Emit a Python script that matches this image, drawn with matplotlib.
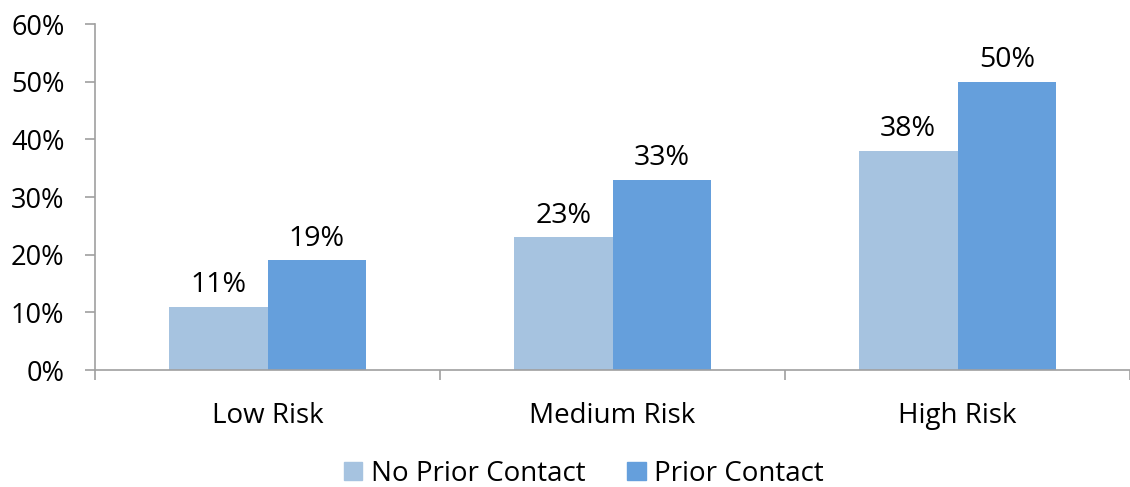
import matplotlib
matplotlib.use("Agg")
import matplotlib.pyplot as plt
import numpy as np
from matplotlib.patches import Patch

categories = ["Low Risk", "Medium Risk", "High Risk"]
no_prior = [11, 23, 38]
prior = [19, 33, 50]
series_names = ["No Prior Contact", "Prior Contact"]

LIGHT = "#A6C3E0"
DARK = "#659FDC"
AXIS = "#A0A0A0"

plt.rcParams["font.family"] = ["Open Sans", "DejaVu Sans"]

fig = plt.figure(figsize=(11.3, 4.87), dpi=100)
ax = fig.add_axes([0.0841, 0.2402, 0.9159, 0.7105])

x = np.arange(len(categories))
w = 0.286
b1 = ax.bar(x - w / 2, no_prior, w, color=LIGHT, zorder=2)
b2 = ax.bar(x + w / 2, prior, w, color=DARK, zorder=2)

for bars, vals in ((b1, no_prior), (b2, prior)):
    for r, v in zip(bars, vals):
        ax.text(r.get_x() + r.get_width() / 2, v + 1.3, f"{v}%",
                ha="center", va="bottom", fontsize=20.5)

ax.set_xlim(-0.5, 2.5)
ax.set_ylim(0, 60)
ax.set_yticks(range(0, 61, 10))
ax.set_yticklabels([f"{t}%" for t in range(0, 61, 10)], fontsize=19.5)
ax.set_xticks(x)
ax.set_xticklabels(categories, fontsize=20)
ax.tick_params(axis="x", length=0, pad=23)
ax.set_xticks([-0.5, 0.5, 1.5, 2.5], minor=True)
ax.tick_params(axis="x", which="minor", length=7, color=AXIS, width=1.2)
ax.tick_params(axis="y", length=7, color=AXIS, width=1.2, pad=15)

for s in ("top", "right"):
    ax.spines[s].set_visible(False)
for s in ("left", "bottom"):
    ax.spines[s].set_color(AXIS)
    ax.spines[s].set_linewidth(1.2)

handles = [Patch(color=LIGHT), Patch(color=DARK)]
fig.legend(handles, series_names, loc="center", bbox_to_anchor=(0.517, 0.027),
           ncol=2, frameon=False, fontsize=20, handlelength=0.65, handleheight=0.65,
           handletextpad=0.32, columnspacing=1.5, borderpad=0, borderaxespad=0)

fig.savefig("out.png", dpi=100)
